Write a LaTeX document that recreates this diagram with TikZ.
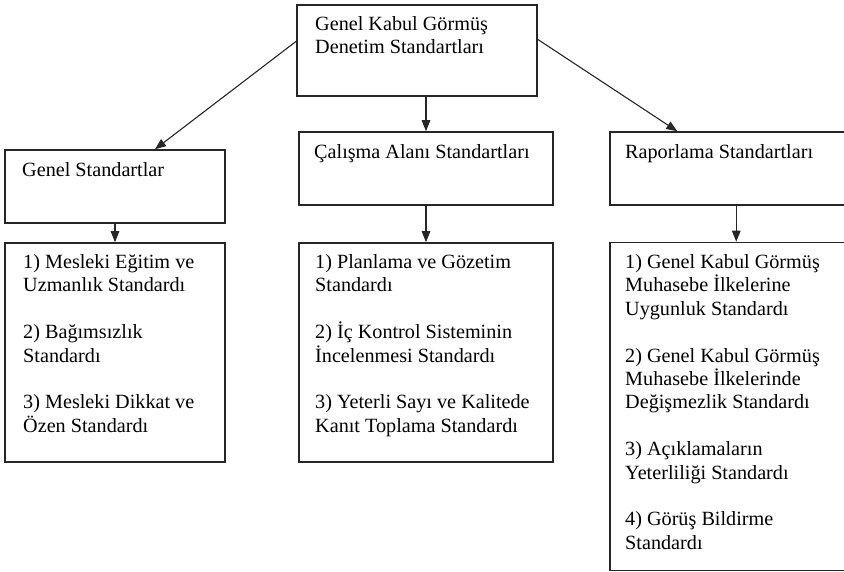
\documentclass[tikz,border=0pt]{standalone}
\usepackage{fontspec}
\setmainfont{Liberation Serif}
\usetikzlibrary{arrows.meta,calc}
\tikzset{
  box/.style={draw=black!85, line width=1.5pt, rectangle, inner sep=0pt},
  txt/.style={anchor=base west, inner sep=0pt, font=\fontsize{20.2}{23.4}\selectfont, text=black},
  arr/.style={draw=black!85, line width=1.1pt, -{Triangle[length=11pt,width=8.5pt]}},
}
\begin{document}
\begin{tikzpicture}[x=1pt,y=-1pt]
\useasboundingbox (0,0) rectangle (844,572);
\clip (0,0) rectangle (844,572);
% boxes
\node[box, minimum width=240pt, minimum height=91pt] (top) at (417,50.5) {};
\node[box, minimum width=220pt, minimum height=73pt] (gs) at (115,186.5) {};
\node[box, minimum width=254pt, minimum height=73pt] (ca) at (426,168.5) {};
\node[box, minimum width=260pt, minimum height=73pt] (rs) at (740,168.5) {};
\node[box, minimum width=220pt, minimum height=219pt] (b1) at (115,352.5) {};
\node[box, minimum width=254pt, minimum height=219pt] (b2) at (426,352.5) {};
\node[box, minimum width=260pt, minimum height=328pt] (b3) at (740,406.5) {};
% texts
\node[txt] (t1) at (315,31) {Genel Kabul Görmüş};
\node[txt] (t2) at (315,54) {Denetim Standartları};
\node[txt] (g1) at (22,177) {Genel Standartlar};
\node[txt] (c1) at (314,158.5) {Çalışma Alanı Standartları};
\node[txt] (r1) at (625,158.5) {Raporlama Standartları};
% left bottom
\node[txt] (l1) at (23,268.5) {1) Mesleki Eğitim ve};
\node[txt] (l2) at (23,291.9) {Uzmanlık Standardı};
\node[txt] (l3) at (23,338.7) {2) Bağımsızlık};
\node[txt] (l4) at (23,362.1) {Standardı};
\node[txt] (l5) at (23,408.9) {3) Mesleki Dikkat ve};
\node[txt] (l6) at (23,432.3) {Özen Standardı};
% middle bottom
\node[txt] (m1) at (315,268.5) {1) Planlama ve Gözetim};
\node[txt] (m2) at (315,291.9) {Standardı};
\node[txt] (m3) at (315,338.7) {2) İç Kontrol Sisteminin};
\node[txt] (m4) at (315,362.1) {İncelenmesi Standardı};
\node[txt] (m5) at (315,408.9) {3) Yeterli Sayı ve Kalitede};
\node[txt] (m6) at (315,432.3) {Kanıt Toplama Standardı};
% right bottom
\node[txt] (q1) at (625,268.5) {1) Genel Kabul Görmüş};
\node[txt] (q2) at (625,291.9) {Muhasebe İlkelerine};
\node[txt] (q3) at (625,315.3) {Uygunluk Standardı};
\node[txt] (q4) at (625,362.1) {2) Genel Kabul Görmüş};
\node[txt] (q5) at (625,385.5) {Muhasebe İlkelerinde};
\node[txt] (q6) at (625,408.9) {Değişmezlik Standardı};
\node[txt] (q7) at (625,455.7) {3) Açıklamaların};
\node[txt] (q8) at (625,479.1) {Yeterliliği Standardı};
\node[txt] (q9) at (625,525.9) {4) Görüş Bildirme};
\node[txt] (q10) at (625,549.3) {Standardı};
% connectors
\coordinate (sl) at ($(top.north west)!0.4!(top.south west)$);
\coordinate (el) at ([xshift=40pt]gs.north);
\draw[arr] (sl) -- (el);
\coordinate (sr) at ($(top.north east)!0.38!(top.south east)$);
\coordinate (er) at ([xshift=68pt]rs.north west);
\draw[arr] (sr) -- (er);
\draw[arr] (top.south -| ca.north) -- (ca.north);
\draw[arr] (gs.south) -- (b1.north);
\draw[arr] (ca.south) -- (b2.north);
\coordinate (rsb) at ([xshift=127pt]rs.south west);
\draw[arr] (rsb) -- (rsb |- b3.north);
\end{tikzpicture}
\end{document}
